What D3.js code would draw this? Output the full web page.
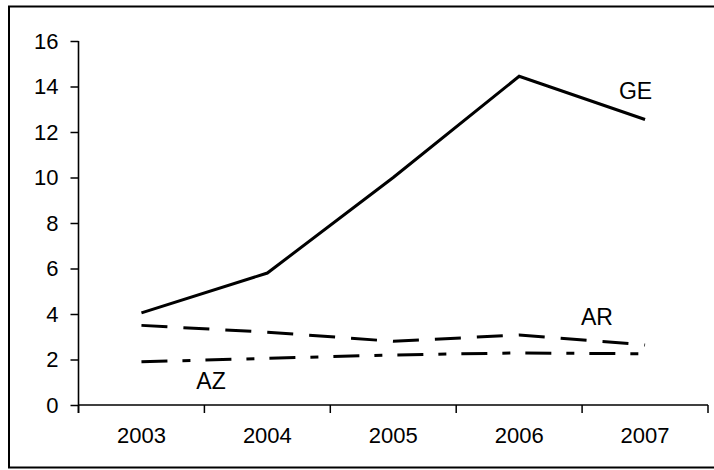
<!DOCTYPE html>
<html>
<head>
<meta charset="utf-8">
<script src="https://cdn.jsdelivr.net/npm/d3@7"></script>
<style>
  html, body { margin: 0; padding: 0; background: #fff; }
  svg { display: block; }
  text { font-family: "Liberation Sans", Arial, sans-serif; fill: #000; }
</style>
</head>
<body>
<svg id="chart" width="714" height="470"></svg>
<script>
const years = ["2003", "2004", "2005", "2006", "2007"];
const geValues = [4.05, 5.8, 10.0, 14.45, 12.55];
const arValues = [3.5, 3.2, 2.8, 3.08, 2.64];
const azValues = [1.9, 2.05, 2.2, 2.29, 2.25];
const yTicks = [0, 2, 4, 6, 8, 10, 12, 14, 16];
const seriesNames = ["GE", "AR", "AZ"];

const svg = d3.select("#chart");

// outer frame
svg.append("rect")
  .attr("x", 9).attr("y", 6.5)
  .attr("width", 710).attr("height", 461)
  .attr("fill", "none").attr("stroke", "#000").attr("stroke-width", 2);

const mLeft = 78.5, mRight = 708, mTop = 41, mBottom = 405;

const x = d3.scaleBand().domain(years).range([mLeft, mRight]).padding(0);
const y = d3.scaleLinear().domain([0, 16]).range([mBottom, mTop]);

// Y axis
const yAxis = svg.append("g")
  .attr("transform", `translate(${mLeft},0)`)
  .call(d3.axisLeft(y).tickValues(yTicks).tickSize(8).tickPadding(12).tickFormat(d3.format("d")));
yAxis.select(".domain").attr("stroke", "#000").attr("stroke-width", 1.6).attr("d", `M0,${mTop}V${mBottom + 8}`);
yAxis.selectAll(".tick line").attr("stroke", "#000").attr("stroke-width", 1.5);
yAxis.selectAll(".tick text").style("font-size", "22px").attr("fill", "#000");

// X axis
const xAxis = svg.append("g")
  .attr("transform", `translate(0,${mBottom})`)
  .call(d3.axisBottom(x).tickSize(0).tickPadding(22));
xAxis.select(".domain").attr("stroke", "#000").attr("stroke-width", 1.5).attr("d", `M${mLeft},0H${mRight}`);
xAxis.selectAll(".tick text").style("font-size", "22px").attr("fill", "#000");
// boundary tick marks
const bounds = years.map(d => x(d)).concat([mRight]);
xAxis.selectAll(".bound").data(bounds).enter().append("line")
  .attr("class", "bound")
  .attr("x1", d => d).attr("x2", d => d)
  .attr("y1", 0).attr("y2", 8)
  .attr("stroke", "#000").attr("stroke-width", 1.5);

const line = d3.line()
  .x((d, i) => x(years[i]) + x.bandwidth() / 2)
  .y(d => y(d));

const series = [
  { name: seriesNames[0], values: geValues, dash: null },
  { name: seriesNames[1], values: arValues, dash: "26,16" },
  { name: seriesNames[2], values: azValues, dash: "26,15,8,15" }
];

svg.selectAll(".series").data(series).enter().append("path")
  .attr("class", "series")
  .attr("d", d => line(d.values))
  .attr("fill", "none")
  .attr("stroke", "#000")
  .attr("stroke-width", 3)
  .attr("stroke-dasharray", d => d.dash);

// series labels
const labelPos = [
  { name: seriesNames[0], x: 635.5, y: 91 },
  { name: seriesNames[1], x: 597, y: 317 },
  { name: seriesNames[2], x: 211, y: 381 }
];
svg.selectAll(".slabel").data(labelPos).enter().append("text")
  .attr("class", "slabel")
  .attr("x", d => d.x).attr("y", d => d.y)
  .attr("text-anchor", "middle")
  .attr("dominant-baseline", "central")
  .style("font-size", "23px")
  .text(d => d.name);
</script>
</body>
</html>
